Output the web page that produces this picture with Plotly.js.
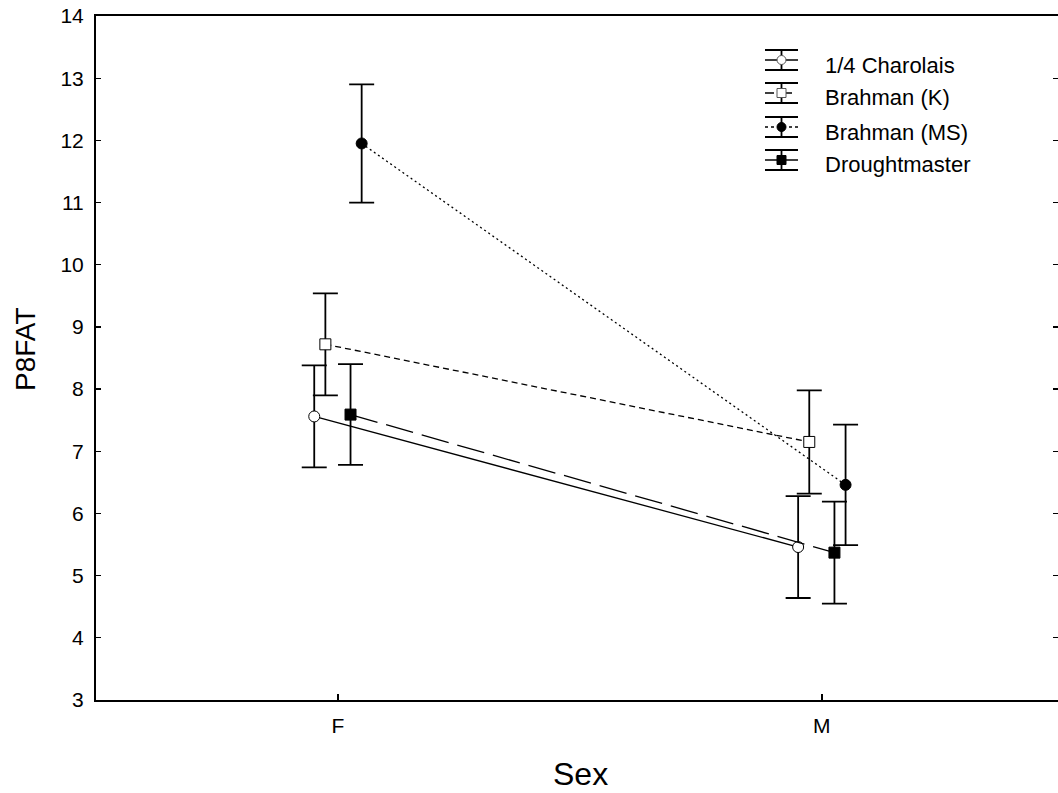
<!DOCTYPE html>
<html>
<head>
<meta charset="utf-8">
<script src="https://cdn.plot.ly/plotly-3.0.1.min.js"></script>
<style>
  html, body { margin: 0; padding: 0; background: #fff; }
  #chart { width: 1058px; height: 793px; }
</style>
</head>
<body>
<div id="chart"></div>
<script>
// ---- data ----
const categories = ['F', 'M'];
const seriesNames = ['1/4 Charolais', 'Brahman (K)', 'Brahman (MS)', 'Droughtmaster'];
const charolaisMean = [7.56, 5.46];
const charolaisErr  = [0.82, 0.82];
const brahmanKMean  = [8.72, 7.15];
const brahmanKErr   = [0.82, 0.83];
const brahmanMSMean = [11.95, 6.46];
const brahmanMSErr  = [0.95, 0.97];
const droughtMean   = [7.59, 5.37];
const droughtErr    = [0.81, 0.82];
const yTicks = [3, 4, 5, 6, 7, 8, 9, 10, 11, 12, 13, 14];

// ---- styling ----
const catIndex = categories.map((c, i) => i);
const offsets = [-0.049, -0.026, 0.049, 0.026];
const means = [charolaisMean, brahmanKMean, brahmanMSMean, droughtMean];
const errs = [charolaisErr, brahmanKErr, brahmanMSErr, droughtErr];
const dashes = ['solid', '6px,4px', '2px,3px', '28px,9px'];
const symbols = ['circle', 'square', 'circle', 'square'];
const fills = ['#ffffff', '#ffffff', '#000000', '#000000'];
const FONT = 'Arial, "Liberation Sans", sans-serif';

const traces = seriesNames.map((name, k) => ({
  type: 'scatter',
  mode: 'lines+markers',
  name: name,
  x: catIndex.map(i => i + offsets[k]),
  y: means[k],
  line: { color: '#000', width: 1.3, dash: dashes[k] },
  marker: { symbol: symbols[k], size: 11, color: fills[k], line: { color: '#000', width: 1 } },
  error_y: { type: 'data', array: errs[k], visible: true, color: '#000', thickness: 1.8, width: 12.5 },
  showlegend: false,
  hoverinfo: 'skip'
}));

// plot area in pixels
const L = 96, R = 1058, T = 16, B = 700;
const fx = p => (p - L) / (R - L);
const fy = p => (B - p) / (B - T);

// custom legend (icon with error bar + text)
const shapes = [];
const annotations = [];
const legIconL = 765, legIconR = 798, legIconC = 781.5;
const legRows = [60, 93, 127, 160];
const legDash = ['solid', 'dash', 'dot', 'solid'];
legRows.forEach((c, k) => {
  const ln = (x0, y0, x1, y1, w, dash) => shapes.push({
    type: 'line', xref: 'paper', yref: 'paper', layer: 'above',
    x0: fx(x0), x1: fx(x1), y0: fy(y0), y1: fy(y1),
    line: { color: '#000', width: w, dash: dash || 'solid' }
  });
  ln(legIconL, c - 10, legIconR, c - 10, 1.8);
  ln(legIconL, c + 10, legIconR, c + 10, 1.8);
  ln(legIconC, c - 10, legIconC, c + 10, 1.8);
  ln(legIconL, c, legIconR, c, 1.3, legDash[k]);
  const r = 4.5;
  shapes.push({
    type: symbols[k] === 'circle' ? 'circle' : 'rect',
    xref: 'paper', yref: 'paper', layer: 'above',
    x0: fx(legIconC - r), x1: fx(legIconC + r), y0: fy(c + r), y1: fy(c - r),
    fillcolor: fills[k], line: { color: fills[k] === '#000000' ? '#000' : '#555', width: 1 }
  });
  annotations.push({
    xref: 'paper', yref: 'paper', x: fx(823), y: fy(c + 5),
    xanchor: 'left', yanchor: 'middle', showarrow: false,
    text: seriesNames[k], font: { family: FONT, size: 22, color: '#000' }
  });
});

// axis titles
annotations.push({
  xref: 'paper', yref: 'paper', x: fx(25), y: fy(349), xanchor: 'center', yanchor: 'middle',
  showarrow: false, textangle: -90, text: 'P8FAT', font: { family: FONT, size: 28, color: '#000' }
});
annotations.push({
  xref: 'paper', yref: 'paper', x: fx(580), y: fy(774), xanchor: 'center', yanchor: 'middle',
  showarrow: false, text: 'Sex', font: { family: FONT, size: 32, color: '#000' }
});

const layout = {
  width: 1058, height: 793,
  margin: { l: L, r: 1058 - R, t: T, b: 793 - B, pad: 0 },
  paper_bgcolor: '#fff', plot_bgcolor: '#fff',
  showlegend: false,
  font: { family: FONT, color: '#000' },
  xaxis: {
    range: [-0.5, 1.488], tickvals: catIndex, ticktext: categories,
    ticks: 'inside', ticklen: 6, tickwidth: 1.3, tickcolor: '#000',
    showline: true, linecolor: '#000', linewidth: 2, mirror: true,
    showgrid: false, zeroline: false, tickfont: { family: FONT, size: 21, color: '#000' },
    ticklabelstandoff: 6, fixedrange: true
  },
  yaxis: {
    range: [3, 14], tickvals: yTicks,
    ticks: 'inside', ticklen: 5, tickwidth: 1.3, tickcolor: '#000',
    showline: true, linecolor: '#000', linewidth: 2, mirror: 'ticks',
    showgrid: false, zeroline: false, tickfont: { family: FONT, size: 21, color: '#000' },
    ticklabelstandoff: 6, fixedrange: true
  },
  shapes: shapes,
  annotations: annotations
};

Plotly.newPlot('chart', traces, layout, { displayModeBar: false, staticPlot: true });
</script>
</body>
</html>
